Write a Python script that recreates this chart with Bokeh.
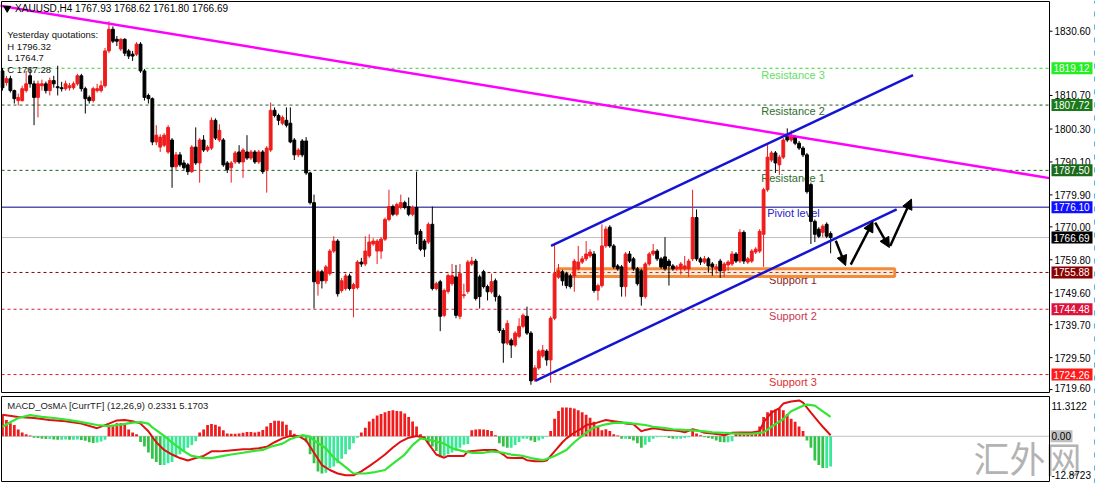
from bokeh.plotting import figure
from bokeh.models import Range1d, Arrow, NormalHead, ColumnDataSource
from bokeh.layouts import column
from bokeh.embed import file_html
from bokeh.resources import INLINE
from bokeh.core.properties import value

# ---------------- data: XAUUSD H4 candles ----------------
opens = [1818.3, 1814.7, 1815.9, 1812.2, 1809.1, 1809.1, 1812.2, 1816.8, 1814.3, 1810.1,
         1813.7, 1814.3, 1812.2, 1815.3, 1813.4, 1813.1, 1812.8, 1813.1, 1813.1, 1814.3,
         1816.8, 1812.8, 1810.1, 1809.1, 1812.2, 1812.2, 1813.7, 1824.5, 1831.2, 1828.1,
         1825.1, 1828.1, 1824.5, 1823.5, 1823.5, 1826.6, 1818.3, 1810.7, 1809.7, 1796.3,
         1794.7, 1795.3, 1793.2, 1796.9, 1788.6, 1792.3, 1789.8, 1789.2, 1787.1, 1794.7,
         1789.8, 1796.9, 1793.8, 1794.4, 1803.0, 1796.9, 1796.9, 1789.8, 1788.3, 1790.1,
         1793.2, 1790.1, 1793.2, 1791.3, 1793.2, 1790.1, 1793.2, 1787.7, 1793.8, 1806.1,
         1804.5, 1802.1, 1803.0, 1802.1, 1796.9, 1792.3, 1796.6, 1796.6, 1786.7, 1777.5,
         1752.4, 1756.1, 1753.3, 1755.5, 1762.5, 1765.6, 1750.3, 1750.9, 1754.8, 1750.9,
         1751.2, 1759.1, 1758.5, 1761.0, 1764.7, 1762.5, 1762.5, 1766.2, 1772.3, 1776.3,
         1773.9, 1776.0, 1777.5, 1776.3, 1773.9, 1776.0, 1768.6, 1765.6, 1765.3, 1770.8,
         1750.9, 1753.0, 1742.6, 1750.0, 1752.4, 1754.5, 1742.3, 1748.7, 1750.0, 1758.5,
         1759.4, 1754.5, 1756.1, 1751.5, 1749.9, 1753.3, 1748.4, 1737.9, 1734.0, 1734.9,
         1733.4, 1736.1, 1739.2, 1742.3, 1737.1, 1722.6, 1726.3, 1730.0, 1731.5, 1728.8,
         1741.7, 1754.5, 1756.1, 1755.5, 1754.8, 1754.8, 1757.0, 1759.1, 1760.1, 1761.0,
         1761.6, 1750.3, 1751.8, 1764.1, 1769.9, 1764.1, 1757.9, 1757.6, 1751.5, 1761.6,
         1760.1, 1757.0, 1756.4, 1748.4, 1758.5, 1761.6, 1762.5, 1760.1, 1760.7, 1759.4,
         1757.9, 1757.0, 1757.0, 1757.0, 1757.0, 1760.1, 1772.9, 1760.1, 1759.1, 1760.1,
         1758.5, 1757.0, 1759.4, 1756.4, 1758.2, 1758.5, 1761.6, 1759.4, 1768.3, 1759.1,
         1759.4, 1762.2, 1762.5, 1767.7, 1781.5, 1790.7, 1792.9, 1789.2, 1791.6, 1798.4,
         1796.9, 1797.8, 1795.9, 1794.4, 1792.3, 1783.1, 1771.7, 1769.3, 1768.3, 1770.8,
         1767.93]
highs = [1819.2, 1816.8, 1816.8, 1812.5, 1811.3, 1813.7, 1818.3, 1819.2, 1815.3, 1815.3,
         1815.6, 1815.0, 1816.2, 1816.8, 1819.9, 1814.9, 1815.3, 1814.6, 1815.0, 1817.4,
         1817.4, 1813.4, 1810.7, 1813.4, 1814.3, 1815.3, 1825.4, 1833.7, 1832.1, 1829.1,
         1828.4, 1828.4, 1825.1, 1824.5, 1827.2, 1827.2, 1818.9, 1811.3, 1810.1, 1801.5,
         1798.7, 1799.0, 1801.5, 1797.5, 1793.2, 1793.2, 1790.7, 1789.8, 1795.3, 1800.8,
         1797.5, 1798.4, 1795.3, 1803.9, 1803.6, 1801.8, 1797.5, 1790.4, 1790.4, 1793.5,
         1795.3, 1794.4, 1798.4, 1793.8, 1793.8, 1793.8, 1793.8, 1795.0, 1808.5, 1807.0,
         1805.1, 1804.5, 1807.0, 1807.0, 1797.5, 1794.4, 1797.2, 1797.8, 1787.1, 1780.0,
         1756.7, 1756.7, 1758.2, 1763.1, 1767.1, 1766.2, 1754.2, 1755.5, 1755.5, 1752.7,
         1759.7, 1760.4, 1767.1, 1767.7, 1766.5, 1766.2, 1766.8, 1772.9, 1781.5, 1776.9,
         1777.5, 1780.0, 1778.1, 1779.1, 1776.6, 1787.1, 1769.3, 1766.2, 1771.4, 1776.3,
         1753.0, 1753.6, 1750.9, 1755.5, 1758.5, 1758.2, 1758.5, 1752.4, 1759.7, 1760.7,
         1760.1, 1755.2, 1756.7, 1752.1, 1755.5, 1754.0, 1749.0, 1738.6, 1741.1, 1735.5,
         1737.7, 1741.7, 1743.2, 1745.3, 1737.7, 1727.2, 1732.1, 1733.4, 1732.1, 1742.3,
         1764.7, 1758.5, 1756.7, 1756.1, 1755.5, 1760.1, 1764.1, 1761.0, 1765.6, 1763.1,
         1762.5, 1752.4, 1770.8, 1770.2, 1770.5, 1764.7, 1758.5, 1758.2, 1762.2, 1762.5,
         1760.7, 1757.6, 1757.0, 1759.1, 1762.2, 1764.7, 1763.1, 1760.7, 1766.8, 1760.1,
         1758.5, 1758.2, 1759.1, 1761.0, 1760.1, 1781.5, 1775.4, 1760.7, 1761.0, 1760.7,
         1759.1, 1758.5, 1760.1, 1759.1, 1759.7, 1762.5, 1762.2, 1769.3, 1768.9, 1760.7,
         1763.1, 1763.7, 1769.3, 1782.1, 1795.3, 1793.5, 1793.5, 1792.3, 1797.5, 1800.5,
         1799.9, 1798.4, 1796.6, 1795.0, 1792.9, 1783.7, 1772.3, 1769.9, 1770.8, 1771.4,
         1768.62]
lows = [1812.2, 1813.7, 1811.6, 1808.2, 1807.6, 1808.8, 1811.6, 1813.1, 1801.5, 1803.9,
        1812.2, 1811.3, 1810.7, 1813.1, 1810.7, 1811.9, 1812.2, 1812.2, 1812.5, 1813.7,
        1811.9, 1805.1, 1808.2, 1808.5, 1811.6, 1811.6, 1813.1, 1823.8, 1826.9, 1826.0,
        1824.5, 1822.9, 1822.0, 1821.4, 1822.9, 1817.7, 1809.1, 1808.2, 1795.3, 1795.3,
        1793.2, 1794.7, 1792.6, 1782.1, 1787.7, 1788.6, 1787.7, 1786.1, 1786.7, 1789.2,
        1783.7, 1793.2, 1793.2, 1793.8, 1796.9, 1796.3, 1788.6, 1786.7, 1783.7, 1789.5,
        1789.5, 1785.2, 1790.7, 1790.7, 1789.5, 1789.5, 1786.4, 1780.6, 1793.2, 1803.9,
        1801.5, 1801.5, 1800.8, 1795.9, 1790.7, 1791.6, 1791.6, 1786.1, 1776.9, 1744.7,
        1748.7, 1750.9, 1752.4, 1754.9, 1761.9, 1748.4, 1749.6, 1750.3, 1750.3, 1742.0,
        1750.6, 1757.6, 1757.9, 1760.4, 1764.1, 1758.5, 1760.1, 1765.6, 1771.7, 1773.3,
        1773.3, 1775.4, 1775.4, 1773.3, 1773.3, 1764.7, 1762.5, 1760.7, 1764.7, 1750.3,
        1750.3, 1737.7, 1742.0, 1749.3, 1751.8, 1741.7, 1741.4, 1747.8, 1749.3, 1757.9,
        1747.2, 1744.7, 1750.9, 1747.2, 1749.3, 1746.9, 1737.1, 1727.9, 1733.4, 1729.4,
        1732.8, 1735.5, 1738.6, 1736.5, 1721.1, 1722.0, 1725.7, 1729.4, 1727.0, 1721.7,
        1741.1, 1753.9, 1751.8, 1750.9, 1750.9, 1749.9, 1756.4, 1758.5, 1759.4, 1760.4,
        1749.6, 1747.2, 1751.2, 1763.5, 1763.5, 1757.0, 1756.4, 1748.4, 1748.4, 1758.8,
        1756.4, 1751.8, 1745.6, 1747.8, 1757.9, 1761.0, 1759.4, 1757.0, 1756.4, 1751.8,
        1756.4, 1756.4, 1755.2, 1756.4, 1754.5, 1759.4, 1759.4, 1758.2, 1758.5, 1755.8,
        1754.9, 1755.5, 1754.2, 1754.5, 1756.4, 1757.9, 1758.8, 1758.8, 1758.5, 1758.5,
        1758.8, 1761.6, 1761.9, 1757.6, 1780.9, 1790.1, 1786.7, 1786.1, 1791.0, 1796.3,
        1796.3, 1795.3, 1793.8, 1791.6, 1780.3, 1764.7, 1765.3, 1766.5, 1766.8, 1766.5,
        1761.80]
closes = [1813.1, 1815.9, 1812.2, 1809.7, 1810.1, 1812.8, 1814.3, 1814.3, 1810.1, 1814.3,
          1814.3, 1812.2, 1815.3, 1814.3, 1813.1, 1812.8, 1814.3, 1813.7, 1814.3, 1816.8,
          1812.8, 1809.7, 1809.1, 1812.8, 1812.8, 1813.7, 1824.5, 1831.2, 1827.5, 1827.5,
          1828.1, 1823.8, 1822.9, 1822.9, 1826.6, 1818.3, 1810.1, 1809.7, 1796.3, 1798.4,
          1797.8, 1798.4, 1800.8, 1788.6, 1792.3, 1789.2, 1788.3, 1787.1, 1794.7, 1789.8,
          1796.9, 1793.8, 1794.7, 1803.0, 1797.5, 1799.9, 1789.2, 1787.7, 1789.8, 1792.9,
          1790.1, 1793.8, 1791.3, 1793.2, 1790.1, 1793.2, 1787.1, 1794.4, 1806.1, 1804.5,
          1803.0, 1803.9, 1801.5, 1796.3, 1792.3, 1793.8, 1792.3, 1786.7, 1777.5, 1753.0,
          1756.1, 1753.3, 1757.6, 1762.5, 1765.6, 1749.3, 1753.3, 1754.8, 1750.9, 1752.1,
          1759.1, 1758.5, 1762.5, 1765.3, 1765.6, 1765.6, 1766.2, 1772.3, 1776.3, 1773.9,
          1776.9, 1777.5, 1776.0, 1773.9, 1776.0, 1767.7, 1763.1, 1763.1, 1770.8, 1750.9,
          1752.4, 1742.3, 1750.3, 1754.9, 1754.9, 1742.6, 1755.5, 1749.0, 1759.1, 1759.4,
          1747.8, 1748.4, 1751.5, 1749.9, 1753.0, 1748.4, 1737.9, 1734.0, 1740.1, 1733.4,
          1737.1, 1739.2, 1742.6, 1737.1, 1722.3, 1726.3, 1731.5, 1731.8, 1728.8, 1741.7,
          1755.5, 1756.4, 1753.3, 1751.8, 1751.5, 1759.4, 1759.1, 1760.1, 1761.6, 1762.2,
          1750.3, 1751.8, 1764.1, 1769.3, 1764.1, 1757.6, 1757.0, 1751.5, 1761.6, 1759.4,
          1757.0, 1752.4, 1748.4, 1758.5, 1761.6, 1762.5, 1760.1, 1757.6, 1757.0, 1757.9,
          1757.0, 1757.6, 1758.5, 1757.9, 1759.4, 1772.9, 1760.1, 1759.1, 1760.1, 1757.9,
          1757.6, 1757.6, 1756.4, 1758.5, 1759.1, 1761.6, 1759.4, 1768.3, 1759.4, 1760.1,
          1762.5, 1763.1, 1768.6, 1781.5, 1791.6, 1792.9, 1789.8, 1791.6, 1796.9, 1796.9,
          1798.4, 1795.9, 1794.4, 1792.3, 1780.9, 1771.7, 1767.7, 1767.1, 1770.2, 1767.1,
          1766.69]

# ---------------- data: MACD_OsMA subwindow ----------------
osma = [6.2, 4.6, 3.7, 3.2, 1.9, 1.1, 0.6, 0.2,
        -0.4, -0.5, -0.7, -0.8, -0.8, -0.9, -1.0, -1.0, -0.9, -1.0, -1.0, -0.9, -1.1, -1.3, -1.7, -1.9, -1.8, -1.5, -1.0,
        2.8, 3.2, 3.7, 3.7, 3.2, 1.9, 1.1, 0.6,
        -1.6, -2.9, -4.6, -6.4, -7.3, -8.2, -8.2, -7.7, -7.3, -6.0, -5.1, -4.2, -3.3, -2.5, -1.4,
        1.1, 1.9, 3.2, 3.5, 3.3, 2.8, 1.7, 0.8, 0.7, 0.7, 0.8, 1.0, 1.2, 1.2, 1.1, 1.3, 1.8, 2.8, 3.8, 4.4, 4.4, 4.2, 3.3, 1.7, 0.7,
        0.2, -0.2, -1.7, -5.1, -7.7, -10.0, -10.6, -10.4, -9.1, -8.6, -7.7, -6.4, -5.1, -3.8, -2.0, -0.4,
        1.1, 2.4, 4.2, 5.0, 5.9, 6.3, 6.8, 7.2, 7.4, 7.2, 7.1, 6.5, 5.5, 4.2, 2.8, 0.6,
        -0.4, -2.0, -2.9, -4.2, -6.0, -5.6, -5.1, -4.6, -4.2, -3.3, -2.4, -2.2,
        1.7, 1.9, 2.0, 1.9, 1.8, 1.5, 0.3,
        -2.0, -2.9, -3.3, -3.3, -2.5, -1.6, -0.7, -0.7, -1.2, -1.6, -1.2, -0.7, -0.2,
        1.5, 5.0, 7.2, 8.2, 8.2, 8.1, 7.9, 7.4, 6.8, 6.1, 5.3, 4.1, 2.8, 1.7, 2.0, 1.5, 0.6, 0.2,
        -0.7, -0.7, -0.8, -1.2, -2.0, -3.3, -2.4, -1.6, -0.7,
        -0.3, -0.2, -0.2, -0.5, -0.7, -0.7, -0.7, -0.5, -0.3, 2.1, 0.8, 0.3, -0.3, -0.5, -0.7, -1.2, -1.6, -1.7, -1.7, -1.4,
        1.2, 1.2, 1.2, 1.2, 1.2, 1.5, 2.8, 5.5, 6.8, 7.4, 7.6, 7.9, 7.4, 6.3, 5.0, 4.1, 2.8, 1.5,
        -1.2, -3.3, -6.9, -8.2, -9.0, -9.0, -8.6]

macd_idx = [0, 4, 8, 12, 16, 20, 24, 27, 29, 31, 33, 35, 37, 39, 41, 43, 45, 47, 49, 51,
            53, 55, 57, 59, 61, 63, 65, 67, 69, 71, 73, 75, 77, 79, 81, 83, 85, 87, 89, 91,
            93, 95, 97, 99, 101, 103, 105, 107, 108, 110, 112, 113, 115, 117, 118, 120, 122, 123, 125, 127,
            128, 130, 132, 133, 135, 137, 138, 140, 142, 143, 145, 147, 148, 150, 152, 153, 155, 157, 158, 160,
            162, 163, 165, 167, 168, 170, 172, 173, 175, 177, 178, 180, 182, 183, 185, 187, 188, 190, 192, 193,
            195, 197, 198, 200, 202, 203, 205, 207, 208, 210]
macd_vals = [6.1, 5.5, 5.2, 4.6, 4.3, 3.6, 2.3, 3.6, 4.5, 4.6, 4.3, 3.6, 1.4, -1.7, -3.9, -5.2, -6.2, -6.9, -6.2, -5.6,
             -4.3, -4.3, -4.1, -3.9, -3.7, -3.6, -3.4, -3.0, -1.7, -0.6, 0.1, 0.1, -1.2, -4.7, -8.2, -9.6, -10.6, -11.1, -11.1, -10.0,
             -8.5, -6.9, -5.2, -3.2, -1.5, -0.4, 0.1, -0.4, -2.1, -5.2, -6.1, -5.6, -5.6, -5.6, -4.3, -4.1, -3.9, -3.9, -3.9, -5.2,
             -6.1, -6.2, -6.2, -6.8, -7.1, -7.1, -6.9, -4.3, -1.7, -0.6, 1.0, 2.3, 3.2, 3.6, 4.3, 4.6, 4.3, 4.0, 3.6, 3.4,
             1.4, 1.8, 2.3, 2.0, 1.8, 1.7, 1.4, 1.1, 2.0, 1.4, 1.0, 0.8, 0.5, 0.3, 1.0, 1.1, 1.1, 1.1, 1.4, 4.0,
             6.7, 8.0, 9.3, 9.9, 10.2, 9.6, 6.7, 4.0, 2.7, 0.3]

signal_idx = [0, 2, 4, 7, 10, 13, 17, 20, 24, 27, 30, 33, 35, 37, 38, 41, 43, 46, 48, 51,
              53, 56, 58, 61, 63, 66, 68, 71, 73, 76, 78, 79, 82, 84, 87, 89, 92, 94, 97, 99,
              102, 104, 106, 109, 112, 114, 117, 119, 122, 124, 127, 129, 132, 134, 137, 138, 140, 143, 145, 148,
              150, 153, 155, 158, 160, 163, 165, 168, 170, 173, 175, 178, 180, 183, 185, 188, 190, 193, 195, 198,
              200, 203, 204, 206, 208, 210]
signal_vals = [2.7, 4.0, 5.2, 6.0, 5.5, 5.2, 4.6, 4.0, 3.2, 2.9, 3.3, 3.9, 4.0, 3.6, 2.5, 0.1, -1.8, -4.3, -5.6, -6.2,
               -6.2, -5.6, -5.2, -4.7, -4.3, -3.9, -3.0, -2.1, -0.8, 0.3, -0.1, -1.2, -3.4, -6.1, -8.8, -10.6, -10.6, -10.3, -9.6, -7.8,
               -5.2, -2.5, -0.6, -1.2, -2.1, -3.4, -4.3, -4.7, -4.7, -4.3, -4.7, -5.2, -5.6, -6.2, -6.8, -6.5, -5.6, -3.9, -1.7, 1.0,
               2.5, 3.4, 3.8, 3.9, 3.6, 3.2, 2.7, 2.3, 2.0, 1.8, 1.7, 1.4, 1.1, 1.0, 0.8, 0.7, 0.7, 1.1, 2.7, 4.9,
               7.1, 8.7, 9.0, 8.7, 7.1, 5.5]
macd_scale_max = 11.3122
macd_scale_min = -12.8723

# ---------------- levels / drawings ----------------
level_names = ["Resistance 3", "Resistance 2", "Resistance 1", "Piviot level",
               "Support 1", "Support 2", "Support 3"]
level_values = [1819.12, 1807.72, 1787.50, 1776.10, 1755.88, 1744.48, 1724.26]
level_colors = ["#3ccf3c", "#1f5f1f", "#1f5f1f", "#00008b", "#8b0000", "#d21f3c", "#e81818"]
level_text_colors = ["#66dd66", "#2e6e2e", "#2e6e2e", "#2424c8", "#8a2525", "#c8374f", "#e03030"]
level_box_colors = ["#22ee22", "#1a7a1a", "#1a6a1a", "#1010ff", "#8b0000", "#dc143c", "#ff1a1a"]
level_dash = ["3 3", "3 3", "3 3", "solid", "3 3", "3 3", "3 3"]
level_label_x = [192.4, 192.4, 192.4, 193.9, 194.4, 194.4, 194.4]
level_label_y = [1817.1, 1805.8, 1785.2, 1774.2, 1753.6, 1742.3, 1722.0]

last_price = 1766.69
price_ticks = [1830.6, 1810.7, 1800.3, 1790.1, 1779.9, 1770.0, 1759.8, 1749.6, 1739.7, 1729.5, 1719.6]

trend_x = [-0.75, 265.5]
trend_y = [1838.5, 1785.1]
chan_up_x = [139.1, 230.9]
chan_up_y = [1764.1, 1817.0]
chan_lo_x = [135.1, 226.75]
chan_lo_y = [1722.3, 1775.4]
box_x = [140.75, 226.25]
box_y = [1754.6, 1757.0]

arrow_x0 = [211.3, 215.1, 221.3, 225.1]
arrow_y0 = [1765.7, 1758.3, 1771.3, 1764.1]
arrow_x1 = [213.8, 220.75, 224.9, 230.5]
arrow_y1 = [1758.0, 1771.6, 1763.6, 1778.6]

header_text = "XAUUSD,H4  1767.93 1768.62 1761.80 1766.69"
yesterday_lines = ["Yesterday quotations:", "H 1796.32", "L 1764.7", "C 1767.28"]
macd_title = "MACD_OsMA [CurrTF] (12,26,9) 0.2331 5.1703"
watermark = "汇外网"

FONT = "Liberation Sans"
RED = "#ee1c1c"
SCALE_FS = "10px"

# ---------------- geometry of the canvas ----------------
W = 1096
H_MAIN, H_MACD = 393, 90
SCALE_W = 47                         # width of the price-scale strip, px
X0, X1 = -0.25, 265.5                # visible bar range of the chart box
PX = (W - 1 - SCALE_W) / (X1 - X0)   # px per bar
FX0, FX1 = X0 - 1 / PX, X1 + SCALE_W / PX
Y0, Y1 = 1718.7, 1839.8              # price range of the chart box
PY = (H_MAIN - 2) / (Y1 - Y0)
PY_M = (H_MACD - 5) / (macd_scale_max - macd_scale_min)


def make_fig(height, yr):
    f = figure(width=W, height=height, x_range=Range1d(FX0, FX1), y_range=yr,
               output_backend="svg", toolbar_location=None,
               x_axis_location=None, y_axis_location=None,
               min_border=0, min_border_left=0, min_border_right=0,
               min_border_top=0, min_border_bottom=0)
    f.grid.visible = False
    f.outline_line_color = None
    f.background_fill_color = "white"
    f.border_fill_color = "white"
    return f


# ---------------- main price panel ----------------
p = make_fig(H_MAIN, Range1d(Y0 - 1 / PY, Y1 + 1 / PY))

for v, c, d in zip(level_values, level_colors, level_dash):
    p.segment(x0=[X0], y0=[v], x1=[X1], y1=[v], line_color=c, line_width=1, line_dash=d)
p.segment(x0=[X0], y0=[last_price], x1=[X1], y1=[last_price], line_color="#c0c0c0", line_width=1)

p.text(x=level_label_x, y=level_label_y, text=level_names, text_color=level_text_colors,
       text_font=value(FONT), text_font_size="11px", text_baseline="middle", text_align="left")

p.quad(left=[box_x[0]], right=[box_x[1]], bottom=[box_y[0]], top=[box_y[1]],
       fill_color="#f7b27a", fill_alpha=0.25, line_color="#f28c3a", line_width=3)

idx = list(range(len(closes)))
colors = [RED if c >= o else "black" for o, c in zip(opens, closes)]
src = ColumnDataSource(dict(x=idx, h=highs, l=lows,
                            top=[max(o, c) for o, c in zip(opens, closes)],
                            bot=[min(o, c) for o, c in zip(opens, closes)],
                            color=colors))
p.segment(x0="x", y0="h", x1="x", y1="l", color="color", line_width=1, source=src)
p.vbar(x="x", width=0.72, top="top", bottom="bot", fill_color="color",
       line_color="color", line_width=1, source=src)

p.line(trend_x, trend_y, line_color="#ff00ff", line_width=2.5)
p.line(chan_up_x, chan_up_y, line_color="#1414d2", line_width=2.5)
p.line(chan_lo_x, chan_lo_y, line_color="#1414d2", line_width=2.5)

for xa, ya, xb, yb in zip(arrow_x0, arrow_y0, arrow_x1, arrow_y1):
    p.add_layout(Arrow(end=NormalHead(size=10, fill_color="black", line_color="black", line_width=1),
                       x_start=xa, y_start=ya, x_end=xb, y_end=yb,
                       line_color="black", line_width=2.5))

p.scatter([1.2], [1837.7], marker="inverted_triangle", size=7, color="black")
p.text(x=[3.2], y=[1837.7], text=[header_text], text_font=value(FONT),
       text_font_size="10px", text_baseline="middle", text_color="black")
p.text(x=[1.2] * 4, y=[1829.7, 1826.0, 1822.4, 1818.8], text=yesterday_lines,
       text_font=value(FONT), text_font_size="9.5px", text_baseline="middle", text_color="#111111")

p.quad(left=[X0], right=[X1], bottom=[Y0], top=[Y1], fill_color=None,
       line_color="black", line_width=1)

# price scale: ticks + labels
tick_labels = [f"{v:.2f}" for v in price_ticks]
n = len(price_ticks)
p.segment(x0=[X1] * n, y0=price_ticks, x1=[X1 + 3 / PX] * n,
          y1=price_ticks, line_color="black", line_width=1)
p.text(x=[X1 + 5 / PX] * (n - 1), y=price_ticks[:-1], text=tick_labels[:-1],
       text_font=value(FONT), text_font_size=SCALE_FS, text_baseline="middle", text_color="black")
p.text(x=[X1 + 5 / PX], y=[price_ticks[-1]], text=[tick_labels[-1]], y_offset=-2,
       text_font=value(FONT), text_font_size=SCALE_FS, text_baseline="middle", text_color="black")

# coloured price boxes on the scale
box_vals = level_values + [last_price]
box_cols = level_box_colors + ["black"]
half_h = 6 / PY
p.quad(left=[X1 + 2 / PX] * len(box_vals), right=[FX1 - 4 / PX] * len(box_vals),
       bottom=[v - half_h for v in box_vals], top=[v + half_h for v in box_vals],
       fill_color=box_cols, line_color=None)
p.text(x=[X1 + 4 / PX] * len(box_vals), y=box_vals, text=[f"{v:.2f}" for v in box_vals],
       text_font=value(FONT), text_font_size=SCALE_FS, text_baseline="middle", text_color="white")

p.segment(x0=[FX1 - 2 / PX], y0=[Y0 - 1 / PY], x1=[FX1 - 2 / PX], y1=[Y1 + 1 / PY],
          line_color="#5fb4e6", line_width=1, line_dash="5 8")

# ---------------- MACD panel ----------------
m = make_fig(H_MACD, Range1d(macd_scale_min - 2 / PY_M, macd_scale_max + 3 / PY_M))

m.segment(x0=[X0], y0=[0], x1=[X1], y1=[0], line_color="#c0c0c0", line_width=1)

hist_colors = []
for i, v in enumerate(osma):
    if v >= 0:
        hist_colors.append(RED)
    else:
        prev = osma[i - 1] if i > 0 else 0
        hist_colors.append("#35c24a" if v < prev else "#3ae89a")
m.vbar(x=idx, top=osma, bottom=0, width=0.7, fill_color=hist_colors, line_color=None)
m.line(macd_idx, macd_vals, line_color="#e01010", line_width=2)
m.line(signal_idx, signal_vals, line_color="#33e633", line_width=2.2)

m.text(x=[1.2], y=[macd_scale_max - 9 / PY_M], text=[macd_title], text_font=value(FONT),
       text_font_size="9.5px", text_baseline="middle", text_color="#222222")

# watermark
m.text(x=[X1 - 22 / PX], y=[-6.0], text=[watermark], text_color="#9a9a9a", text_alpha=0.75,
       text_font=value("Noto Sans CJK SC"), text_font_size="36px",
       text_align="center", text_baseline="middle")

m.quad(left=[X0], right=[X1], bottom=[macd_scale_min], top=[macd_scale_max], fill_color=None,
       line_color="black", line_width=1)

m.quad(left=[X1 + 1 / PX], right=[X1 + 23 / PX], bottom=[-6 / PY_M], top=[6 / PY_M],
       fill_color="#c0c0c0", line_color=None)
m.text(x=[X1 + 2 / PX] * 3,
       y=[macd_scale_max - 9 / PY_M, 0, macd_scale_min + 7 / PY_M],
       text=[f"{macd_scale_max:.4f}", "0.00", f"{macd_scale_min:.4f}"],
       text_font=value(FONT), text_font_size=SCALE_FS, text_baseline="middle", text_color="black")

m.segment(x0=[FX1 - 2 / PX], y0=[macd_scale_min - 2 / PY_M], x1=[FX1 - 2 / PX],
          y1=[macd_scale_max + 3 / PY_M], line_color="#5fb4e6", line_width=1, line_dash="5 8")

layout = column(p, m, spacing=0)
open("out.html", "w").write(file_html(layout, INLINE))
